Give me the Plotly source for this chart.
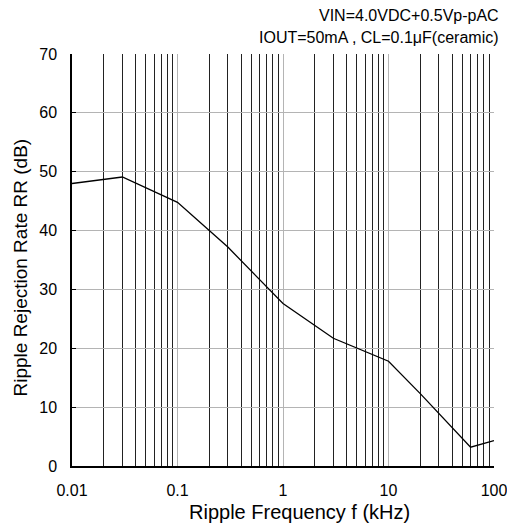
import plotly.graph_objects as go

# ripple rejection vs ripple frequency
freq_khz = [0.01, 0.03, 0.1, 0.3, 1, 3, 10, 20, 60, 100]
rr_db = [48.0, 49.1, 44.8, 37.2, 27.6, 21.7, 17.8, 12.3, 3.2, 4.3]

x_ticks = [0.01, 0.1, 1, 10, 100]
x_tick_text = ["0.01", "0.1", "1", "10", "100"]
minor_vals = [m * d for d in [0.01, 0.1, 1, 10] for m in range(2, 10)]
y_ticks = [0, 10, 20, 30, 40, 50, 60, 70]

FONT = "Liberation Sans, Arial, sans-serif"

fig = go.Figure(
    go.Scatter(
        x=freq_khz,
        y=rr_db,
        mode="lines",
        line=dict(color="black", width=1.3),
    )
)

fig.update_layout(
    width=507,
    height=526,
    margin=dict(l=72, r=13, t=54, b=60),
    plot_bgcolor="white",
    paper_bgcolor="white",
    showlegend=False,
    font=dict(family=FONT, size=16, color="black"),
    xaxis=dict(
        type="log",
        range=[-2, 2],
        tickmode="array",
        tickvals=x_ticks,
        ticktext=x_tick_text,
        showgrid=True,
        gridcolor="#b4b4b4",
        gridwidth=1,
        minor=dict(tickmode="array", tickvals=minor_vals, showgrid=True,
                   gridcolor="#222222", gridwidth=1, ticks=""),
        showline=True,
        linecolor="black",
        linewidth=1.5,
        ticks="",
        zeroline=False,
        automargin=False,
        ticklabeloverflow="allow",
        ticklabelstandoff=9,
        tickfont=dict(size=16),
    ),
    yaxis=dict(
        range=[0, 70],
        tickvals=y_ticks,
        showgrid=True,
        gridcolor="#b4b4b4",
        gridwidth=1,
        showline=True,
        linecolor="black",
        linewidth=1.5,
        ticks="inside",
        ticklen=4,
        tickcolor="black",
        zeroline=False,
        automargin=False,
        ticklabelstandoff=10,
        tickfont=dict(size=16),
    ),
    annotations=[
        # axis titles placed by hand, the original sits a bit off centre
        dict(text="Ripple Frequency f (kHz)", xref="paper", yref="paper",
             x=0.54, y=-0.112, xanchor="center", yanchor="middle",
             showarrow=False, font=dict(size=20)),
        dict(text="Ripple Rejection Rate RR (dB)", xref="paper", yref="paper",
             x=-0.123, y=0.482, xanchor="center", yanchor="middle", textangle=-90,
             showarrow=False, font=dict(size=19)),
        dict(text="VIN=4.0VDC+0.5Vp-pAC", xref="paper", yref="paper",
             x=1.017, y=1, yshift=39, xanchor="right", yanchor="middle",
             showarrow=False, font=dict(size=16)),
        dict(text="IOUT=50mA , CL=0.1μF(ceramic)", xref="paper", yref="paper",
             x=1.017, y=1, yshift=17, xanchor="right", yanchor="middle",
             showarrow=False, font=dict(size=16)),
    ],
)

# drop the default 8px page margin so the figure fills the window
fig.write_html(
    "out.html",
    config={"displayModeBar": False},
    post_script="document.body.style.margin='0';document.body.style.overflow='hidden';",
)
